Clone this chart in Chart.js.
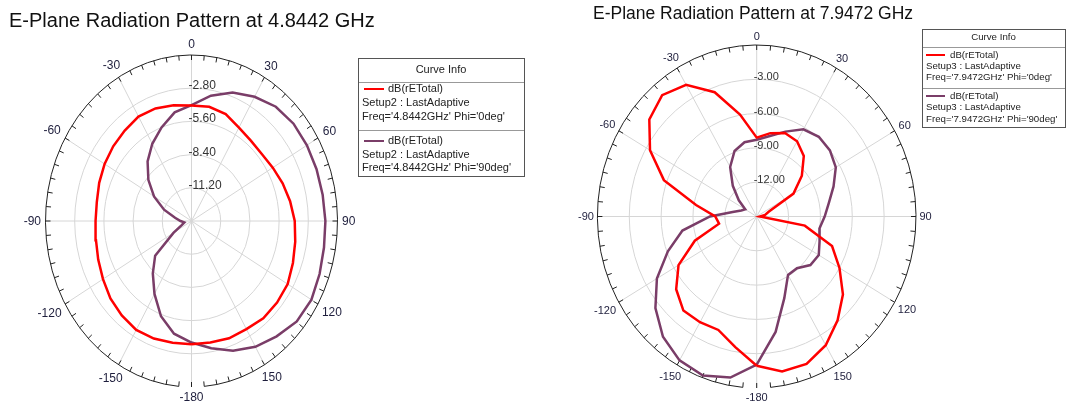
<!DOCTYPE html>
<html>
<head>
<meta charset="utf-8">
<script src="https://cdn.jsdelivr.net/npm/chart.js@4/dist/chart.umd.min.js"></script>
<style>
  html, body { margin: 0; padding: 0; background: #fff; }
  body { width: 1066px; height: 409px; position: relative; overflow: hidden; }
  canvas { position: absolute; top: 0; }
  #c1 { left: 0; }
  #c2 { left: 560px; }
</style>
</head>
<body>
<canvas id="c1" width="560" height="409"></canvas>
<canvas id="c2" width="506" height="409"></canvas>
<script>
// theta in degrees, clockwise from the top (0) like the HFSS plot
const angles = [-180, -170, -160, -150, -140, -130, -120, -110, -100, -90, -80, -70, -60,
  -50, -40, -30, -20, -10, 0, 10, 20, 30, 40, 50, 60, 70, 80, 90, 100, 110, 120, 130,
  140, 150, 160, 170, 180];

// dB(rETotal) at 4.8442 GHz
const e48Phi0 = [-3.60, -3.57, -3.45, -3.40, -3.60, -3.85, -4.20, -4.48, -4.70, -4.80, -4.78,
  -4.58, -4.38, -4.20, -4.04, -3.83, -3.90, -4.08, -4.25, -4.22, -4.41, -4.90, -5.15, -5.20,
  -5.00, -4.70, -4.40, -4.10, -3.90, -3.65, -3.35, -3.29, -3.29, -3.47, -3.47, -3.60, -3.60];
const e48Phi90 = [-3.75, -4.35, -5.45, -6.90, -8.23, -9.45, -12.0, -13.0, -13.3, -12.95, -12.4,
  -11.2, -9.85, -8.60, -7.45, -6.48, -5.60, -4.70, -4.23, -3.27, -2.47, -1.90, -1.42, -1.23,
  -1.22, -1.24, -1.23, -1.16, -1.10, -0.93, -0.72, -0.82, -1.30, -1.75, -2.35, -3.10, -3.75];

// dB(rETotal) at 7.9472 GHz
const e79Phi0 = [-1.95, -3.40, -4.44, -4.32, -4.26, -5.10, -6.50, -8.80, -11.4, -11.1, -9.20,
  -5.70, -3.40, -1.80, -1.15, -1.70, -3.43, -5.95, -8.10, -7.60, -7.23, -7.40, -8.10, -9.45,
  -11.0, -13.8, -14.2, -14.7, -10.4, -7.45, -6.00, -4.40, -3.15, -2.00, -1.27, -1.23, -1.95];
const e79Phi90 = [-2.05, -0.70, -0.20, -0.47, -1.27, -2.55, -4.15, -6.10, -7.90, -10.6, -12.7,
  -13.45, -13.75, -12.8, -11.5, -10.0, -8.90, -8.40, -8.29, -7.85, -7.10, -6.20, -5.90, -6.00,
  -6.40, -7.30, -8.10, -8.60, -9.00, -8.70, -8.25, -8.40, -9.10, -9.10, -7.40, -4.75, -2.05];

const angleTicks = [0, 30, 60, 90, 120, 150, 180, 210, 240, 270, 300, 330];
const angleLabels = ['0', '30', '60', '90', '120', '150', '-180', '-150', '-120', '-90', '-60', '-30'];

const rings48 = [-11.2, -8.4, -5.6, -2.8];
const ringLabels48 = ['-11.20', '-8.40', '-5.60', '-2.80'];
const rings79 = [-12, -9, -6, -3];
const ringLabels79 = ['-12.00', '-9.00', '-6.00', '-3.00'];

const RED = '#ff0000';
const PURPLE = '#7a3d68';
const rad = d => d * Math.PI / 180;

function toXY(vals, min, max) {
  return angles.map((a, i) => {
    const f = Math.max(0, (vals[i] - min) / (max - min));
    return { x: f * Math.sin(rad(a)), y: f * Math.cos(rad(a)) };
  });
}

function drawLegend(ctx, L) {
  ctx.save();
  ctx.fillStyle = '#fff';
  ctx.fillRect(L.x, L.y, L.w, L.h);
  ctx.strokeStyle = '#999';
  ctx.lineWidth = 1;
  L.dividers.forEach(y => {
    ctx.beginPath(); ctx.moveTo(L.x, y + 0.5); ctx.lineTo(L.x + L.w, y + 0.5); ctx.stroke();
  });
  ctx.strokeStyle = '#555';
  ctx.strokeRect(L.x + 0.5, L.y + 0.5, L.w, L.h);
  ctx.font = L.font;
  ctx.fillStyle = '#222';
  ctx.textBaseline = 'middle';
  ctx.textAlign = 'center';
  ctx.fillText('Curve Info', L.x + L.w / 2, L.headY);
  ctx.textAlign = 'left';
  L.entries.forEach(e => {
    ctx.strokeStyle = e.color;
    ctx.lineWidth = 2;
    ctx.beginPath(); ctx.moveTo(L.lineX0, e.rows[0]); ctx.lineTo(L.lineX1, e.rows[0]); ctx.stroke();
    ctx.fillStyle = '#222';
    ctx.fillText(e.lines[0], L.textX, e.rows[0]);
    ctx.fillText(e.lines[1], L.x + 4, e.rows[1]);
    ctx.fillText(e.lines[2], L.x + 4, e.rows[2]);
  });
  ctx.restore();
}

const polarDecor = {
  id: 'polarDecor',
  beforeDatasetsDraw(chart, args, o) {
    const ctx = chart.ctx;
    const xs = chart.scales.x, ys = chart.scales.y;
    const cx = xs.getPixelForValue(0), cy = ys.getPixelForValue(0);
    const rx = xs.getPixelForValue(1) - cx, ry = cy - ys.getPixelForValue(1);
    ctx.save();
    ctx.lineWidth = 1;
    ctx.strokeStyle = '#d6d6d6';
    o.rings.forEach(v => {
      const f = (v - o.min) / (o.max - o.min);
      ctx.beginPath(); ctx.ellipse(cx, cy, rx * f, ry * f, 0, 0, Math.PI * 2); ctx.stroke();
    });
    angleTicks.forEach(a => {
      ctx.beginPath();
      ctx.moveTo(cx, cy);
      ctx.lineTo(cx + rx * Math.sin(rad(a)), cy - ry * Math.cos(rad(a)));
      ctx.stroke();
    });
    // outer rim, open around -180
    ctx.strokeStyle = '#222';
    ctx.beginPath();
    ctx.ellipse(cx, cy, rx, ry, 0, rad(95), rad(445));
    ctx.stroke();
    for (let a = 0; a < 360; a += 5) {
      const s = Math.sin(rad(a)), c = Math.cos(rad(a));
      ctx.beginPath();
      ctx.moveTo(cx + rx * s, cy - ry * c);
      ctx.lineTo(cx + (rx - 5) * s, cy - (ry - 5) * c);
      ctx.stroke();
    }
    // angle labels
    ctx.font = o.labelFont;
    ctx.fillStyle = '#1e1e3c';
    ctx.textAlign = 'center';
    ctx.textBaseline = 'middle';
    angleTicks.forEach((a, i) => {
      const s = Math.sin(rad(a)), c = Math.cos(rad(a));
      const w = ctx.measureText(angleLabels[i]).width;
      const off = o.gap + Math.abs(s) * w / 2 + Math.abs(c) * o.labelH / 2;
      ctx.fillText(angleLabels[i], cx + (rx + off) * s, cy - (ry + off) * c + 0.5);
    });
    // ring labels
    ctx.fillStyle = '#333';
    ctx.textAlign = 'left';
    ctx.textBaseline = 'alphabetic';
    o.rings.forEach((v, i) => {
      const f = (v - o.min) / (o.max - o.min);
      ctx.fillText(o.ringLabels[i], cx - 3, cy - ry * f + 1);
    });
    ctx.restore();
  },
  afterDraw(chart, args, o) {
    const ctx = chart.ctx;
    ctx.save();
    ctx.fillStyle = '#111';
    ctx.font = o.titleFont;
    ctx.textAlign = 'left';
    ctx.textBaseline = 'alphabetic';
    ctx.fillText(o.title, o.titleX, o.titleY);
    ctx.restore();
    drawLegend(ctx, o.legend);
  }
};

function makeChart(id, sets, min, max, pad, decor) {
  return new Chart(document.getElementById(id), {
    type: 'scatter',
    data: {
      datasets: sets.map(s => ({
        data: toXY(s.vals, min, max),
        showLine: true,
        borderColor: s.color,
        backgroundColor: s.color,
        borderWidth: 2.5,
        pointRadius: 0,
        fill: false,
        tension: 0
      }))
    },
    options: {
      responsive: false,
      animation: false,
      layout: { padding: pad },
      scales: {
        x: { type: 'linear', min: -1, max: 1, display: false },
        y: { type: 'linear', min: -1, max: 1, display: false }
      },
      plugins: {
        legend: { display: false },
        tooltip: { enabled: false },
        polarDecor: Object.assign({ min, max }, decor)
      }
    },
    plugins: [polarDecor]
  });
}

makeChart('c1',
  [{ vals: e48Phi0, color: RED }, { vals: e48Phi90, color: PURPLE }],
  -14, 0,
  { left: 45.5, right: 222.5, top: 55, bottom: 22 },
  {
    rings: rings48, ringLabels: ringLabels48,
    labelFont: '12px "Liberation Sans", Arial, sans-serif', labelH: 12, gap: 4.5,
    title: 'E-Plane Radiation Pattern at 4.8442 GHz',
    titleFont: '20px "Liberation Sans", Arial, sans-serif', titleX: 9, titleY: 27,
    legend: {
      x: 358, y: 58, w: 166, h: 118, headY: 70,
      dividers: [82, 130],
      font: '11px "Liberation Sans", Arial, sans-serif',
      lineX0: 364, lineX1: 384, textX: 388,
      entries: [
        { color: RED, rows: [89, 103, 117],
          lines: ['dB(rETotal)', 'Setup2 : LastAdaptive', "Freq='4.8442GHz' Phi='0deg'"] },
        { color: PURPLE, rows: [141, 154.5, 168],
          lines: ['dB(rETotal)', 'Setup2 : LastAdaptive', "Freq='4.8442GHz' Phi='90deg'"] }
      ]
    }
  });

makeChart('c2',
  [{ vals: e79Phi0, color: RED }, { vals: e79Phi90, color: PURPLE }],
  -15, 0,
  { left: 37.4, right: 150, top: 45, bottom: 21 },
  {
    rings: rings79, ringLabels: ringLabels79,
    labelFont: '11px "Liberation Sans", Arial, sans-serif', labelH: 11, gap: 3.5,
    title: 'E-Plane Radiation Pattern at 7.9472 GHz',
    titleFont: '17.5px "Liberation Sans", Arial, sans-serif', titleX: 33, titleY: 18.5,
    legend: {
      x: 362, y: 29, w: 143, h: 98, headY: 37,
      dividers: [47, 88],
      font: '9.7px "Liberation Sans", Arial, sans-serif',
      lineX0: 366, lineX1: 385, textX: 390,
      entries: [
        { color: RED, rows: [55, 66.5, 77.5],
          lines: ['dB(rETotal)', 'Setup3 : LastAdaptive', "Freq='7.9472GHz' Phi='0deg'"] },
        { color: PURPLE, rows: [96, 107.5, 119],
          lines: ['dB(rETotal)', 'Setup3 : LastAdaptive', "Freq='7.9472GHz' Phi='90deg'"] }
      ]
    }
  });
</script>
</body>
</html>
